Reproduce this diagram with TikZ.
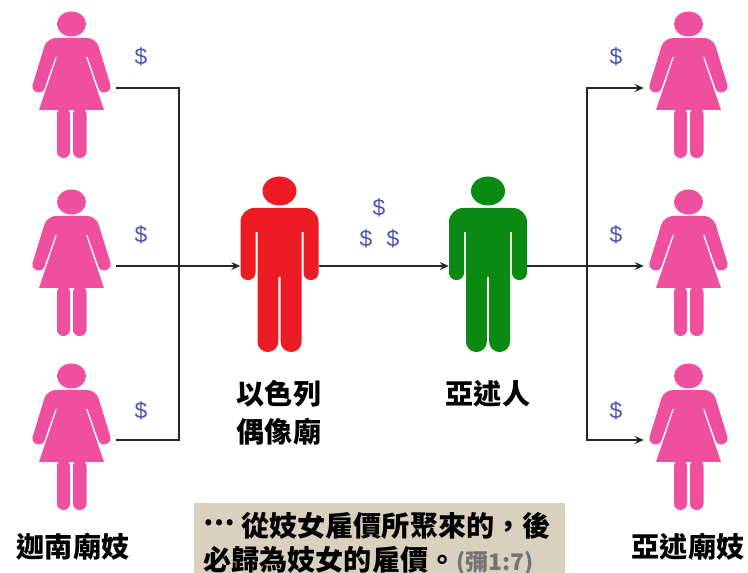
\documentclass[tikz,border=0pt]{standalone}
\usepackage{fontspec}
\setmainfont{Liberation Sans}
\newfontfamily\cjk{Noto Sans CJK TC}
\usetikzlibrary{arrows.meta}
\definecolor{pinkfig}{HTML}{EE4F9F}
\definecolor{redfig}{HTML}{ED1C24}
\definecolor{greenfig}{HTML}{0A8A12}
\definecolor{cashblue}{HTML}{4A55B8}
\definecolor{paper}{HTML}{D9D0BE}

\begin{document}
\begin{tikzpicture}[x=0.02cm,y=-0.02cm]

\tikzset{womanbox/.style = {minimum width=89*0.02cm,minimum height=1pt,inner sep=0pt}}
\tikzset{manbox/.style = {minimum width=78*0.02cm,minimum height=1pt,inner sep=0pt}}
\tikzset{flow/.style = {->,> = {Stealth[length=5pt,width=4.5pt]},draw=black!85,line width=0.6pt}}
\tikzset{wire/.style = {draw=black!85,line width=0.6pt}}
\tikzset{cash/.style = {text=cashblue,font=\fontsize{13}{13}\selectfont,inner sep=0pt}}
\tikzset{tag/.style = {font=\cjk\bfseries\fontsize{16}{19.4}\selectfont,align=center,inner sep=0pt}}
\tikzset{woman/.pic = {
  \fill (0,-64) ellipse (14.5 and 12.5);
  \fill (0,-50) [rounded corners=5pt] -- (-24.5,-50) [rounded corners=2.8pt] -- (-40.5,2) -- (-29,6) [sharp corners] -- (-16,-31) -- (-14.5,-31) -- (-32.5,22) -- (32.5,22) -- (14.5,-31) -- (16,-31) [rounded corners=2.8pt] -- (29,6) -- (40.5,2) [rounded corners=5pt] -- (24.5,-50) -- cycle;
  \fill [rounded corners=3.6pt] (-14.5,20) rectangle (-1.5,70);
  \fill [rounded corners=3.6pt] (1.5,20) rectangle (15,70);
}}
\tikzset{man/.pic = {
  \fill (0,-75) ellipse (17 and 14.5);
  \fill (0,-58) [rounded corners=8pt] -- (-39,-58) [rounded corners=4pt] -- (-39,14) -- (-24,14) [sharp corners] -- (-24,-34) -- (-22,-34) [rounded corners=5.8pt] -- (-22,86) -- (-1.2,86) [sharp corners] -- (-1.2,11) -- (1.2,11) [rounded corners=5.8pt] -- (1.2,86) -- (22,86) [sharp corners] -- (22,-34) -- (24,-34) [rounded corners=4pt] -- (24,14) -- (39,14) [rounded corners=8pt] -- (39,-58) -- cycle;
}}

\useasboundingbox (0,0) rectangle (748,573);

%figures
\foreach \name/\x/\y in {wl1/71.5/88, wl2/71.5/266, wl3/71.5/440, wr1/688.5/88, wr2/688.5/266, wr3/688.5/440}{
  \node[womanbox] (\name) at (\x,\y) {};
  \pic[pinkfig] at (\name) {woman};
}
\node[manbox] (idol) at (279.5,266) {};
\pic[redfig] at (idol) {man};
\node[manbox] (assyrian) at (488,266) {};
\pic[greenfig] at (assyrian) {man};

\coordinate (jl) at (179,266);
\coordinate (jr) at (587,266);

%connectors
\draw[wire] (wl1.east) -| (jl);
\draw[wire] (wl3.east) -| (jl);
\draw[flow] (wl2.east) -- (idol.west);
\draw[flow] (idol.east) -- (assyrian.west);
\draw[flow] (assyrian.east) -- (wr2.west);
\draw[flow] (jr) |- (wr1.west);
\draw[flow] (jr) |- (wr3.west);

%money
\foreach \name/\x/\y in {c1/141/57, c2/141/235, c3/141/411, c4/379/208, c5/366/239, c6/393/239, c7/616/57, c8/616/235, c9/616/411}{
  \node[cash] (\name) at (\x,\y) {\$};
}

%labels
\node[tag] (idollabel) at (279,413) {以色列\\[2pt]偶像廟};
\node[tag] (assyrianlabel) at (488,394) {亞述人};
\node[tag] (canaanlabel) at (73,547) {迦南廟妓};
\node[tag] (assyrialabel) at (688,547) {亞述廟妓};
\node[fill=paper, minimum width=371*0.02cm, minimum height=70*0.02cm, inner sep=0pt] (versebox) at (379.5,538) {};
\node[tag, align=left] (verse) at (377,544) {\raisebox{0.4em}{⋯} 從妓女雇價所聚來的，後\\必歸為妓女的雇價。{\color{black!55}\fontsize{13}{19.4}\selectfont (彌1:7)}};

\end{tikzpicture}
\end{document}
